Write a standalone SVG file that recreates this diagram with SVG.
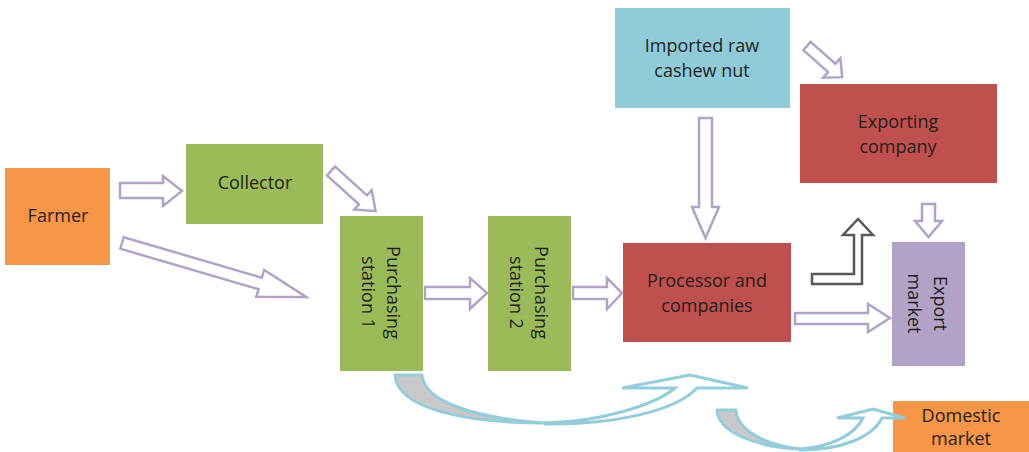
<svg xmlns="http://www.w3.org/2000/svg" width="1029" height="452" viewBox="0 0 1029 452">
<style>
.t{font-family:"Open Sans","Liberation Sans",sans-serif;font-size:18px;fill:#231F20;text-anchor:middle}
.pa{fill:#fff;stroke:#B3A2C7;stroke-width:2.5;stroke-linejoin:miter}
.ga{fill:#fff;stroke:#595959;stroke-width:2.5}
.cb{fill:#C8C8C8;stroke:#92CDDC;stroke-width:3;stroke-linejoin:round}
.cs{fill:#fff;stroke:#92CDDC;stroke-width:3;stroke-linejoin:miter}
</style>
<rect width="1029" height="452" fill="#fff"/>
<g id="farmer"><rect x="5" y="168" width="105" height="97" fill="#F79646"/><text class="t" x="58" y="222">Farmer</text></g>
<g id="collector"><rect x="186" y="144" width="137" height="80" fill="#9BBB59"/><text class="t" x="255" y="189">Collector</text></g>
<g id="ps1"><rect x="340" y="216" width="83" height="155" fill="#9BBB59"/>
<text class="t" transform="translate(387,292.5) rotate(90)">Purchasing</text>
<text class="t" transform="translate(362,292.5) rotate(90)">station 1</text></g>
<g id="ps2"><rect x="488" y="216" width="83" height="155" fill="#9BBB59"/>
<text class="t" transform="translate(535,292.5) rotate(90)">Purchasing</text>
<text class="t" transform="translate(510,292.5) rotate(90)">station 2</text></g>
<g id="imported"><rect x="615" y="8" width="175" height="100" fill="#8ECCDA"/>
<text class="t" x="702" y="52">Imported raw</text><text class="t" x="702" y="77">cashew nut</text></g>
<g id="processor"><rect x="623" y="243" width="168" height="99" fill="#C0504D"/>
<text class="t" x="707" y="287">Processor and</text><text class="t" x="707" y="312">companies</text></g>
<g id="exporting"><rect x="800" y="84" width="197" height="99" fill="#C0504D"/>
<text class="t" x="898" y="128">Exporting</text><text class="t" x="898" y="153">company</text></g>
<g id="export"><rect x="892" y="242" width="73" height="124" fill="#B2A2C7"/>
<text class="t" transform="translate(934,303.5) rotate(90)">Export</text>
<text class="t" transform="translate(908,303.5) rotate(90)">market</text></g>
<g id="domestic"><rect x="893" y="401" width="136" height="51" fill="#F79646"/>
<text class="t" x="961" y="422">Domestic</text><text class="t" x="961" y="445">market</text></g>
<g id="connectors">
<path class="pa" d="M120,183 L163,183 L163,176 L182,191 L163,206 L163,198 L120,198 Z"/>
<path class="pa" transform="translate(122,243) rotate(16.3)" d="M0,-6 L144,-6 L144,-14 L192,0 L144,14 L144,6 L0,6 Z"/>
<path class="pa" transform="translate(331,171) rotate(42)" d="M0,-6 L43,-6 L43,-13 L60,0 L43,13 L43,6 L0,6 Z"/>
<path class="pa" d="M425,287 L470,287 L470,278 L487,293 L470,309 L470,299 L425,299 Z"/>
<path class="pa" d="M573,287 L607,287 L607,278 L622,293 L607,309 L607,299 L573,299 Z"/>
<path class="pa" d="M699,118 L712,118 L712,207 L719,207 L705.5,238 L692,207 L699,207 Z"/>
<path class="pa" transform="translate(807,46) rotate(41.5)" d="M0,-5.5 L33,-5.5 L33,-13 L47,0 L33,13 L33,5.5 L0,5.5 Z"/>
<path class="pa" d="M922,204 L935,204 L935,221 L942,221 L928.5,237 L915,221 L922,221 Z"/>
<path class="pa" d="M795,313 L868,313 L868,304 L890,318 L868,332 L868,324 L795,324 Z"/>
<path class="ga" d="M812,274 L854,274 L854,235 L843,235 L858,219 L873,235 L862,235 L862,284 L812,284 Z"/>
<path class="cb" d="M395,375 L422,375 C424,400 470,418 545,423 C470,423 397,410 395,375 Z"/>
<path class="cs" d="M545,423 C600,422 655,405 675,388 L622,388 L690,375 L748,388 L697,388 C675,412 610,425 545,424 Z"/>
<path class="cb" d="M717,410 L736,410 C737,428 760,444 800,449 C755,447 718,432 717,410 Z"/>
<path class="cs" d="M800,449 C830,447 855,435 863,418 L837,418 L873,409 L905,418 L882,418 C872,438 840,450 800,450 Z"/>
</g>
</svg>
